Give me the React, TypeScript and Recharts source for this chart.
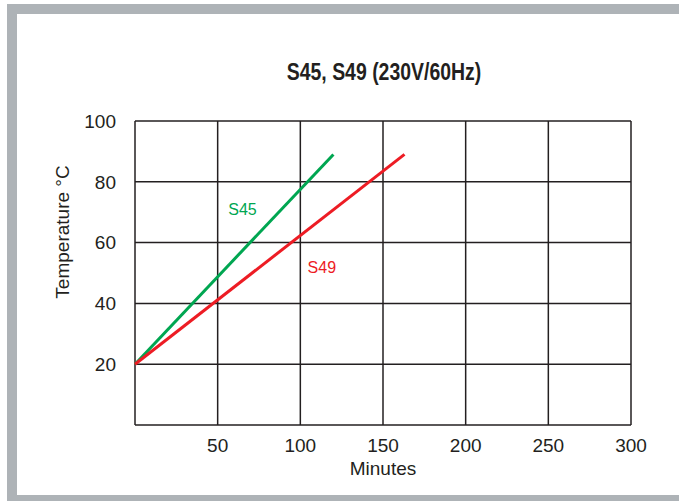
import React from 'react';
import { LineChart, Line, XAxis, YAxis, CartesianGrid, ReferenceDot } from 'recharts';

const xTicks = [0, 50, 100, 150, 200, 250, 300];
const yTicks = [0, 20, 40, 60, 80, 100];
const s45 = [
  { x: 0, y: 20 },
  { x: 120, y: 89 },
];
const s49 = [
  { x: 0, y: 20 },
  { x: 163, y: 89 },
];
const labels = [
  { name: 'S45', x: 65, y: 71, color: '#00a651' },
  { name: 'S49', x: 113, y: 52, color: '#ed1c24' },
];

const FONT = '"Liberation Sans", Arial, sans-serif';
const TEXT = '#231f20';

const YLabel = () => (
  <text
    x={62}
    y={232}
    transform="rotate(-90, 62, 232)"
    textAnchor="middle"
    dominantBaseline="central"
    fill={TEXT}
    fontSize={19}
    fontFamily={FONT}
  >
    Temperature °C
  </text>
);

export default function App() {
  return (
    <div style={{ position: 'absolute', left: 0, top: 0, width: 679, height: 501, background: '#fff', overflow: 'hidden' }}>
      <div style={{ position: 'absolute', left: 7, top: 4, width: 672, height: 10, background: '#aeb3b7' }} />
      <div style={{ position: 'absolute', left: 7, top: 4, width: 10, height: 497, background: '#aeb3b7' }} />
      <div style={{ position: 'absolute', left: 7, top: 495, width: 672, height: 6, background: '#aeb3b7' }} />
      <div
        style={{
          position: 'absolute',
          left: 384,
          top: 57,
          transform: 'translateX(-50%) scaleX(0.81)',
          whiteSpace: 'nowrap',
          fontFamily: '"Liberation Sans Narrow", "Liberation Sans", Arial, sans-serif',
          fontWeight: 'bold',
          fontSize: 24,
          color: TEXT,
          lineHeight: '29px',
        }}
      >
        S45, S49 (230V/60Hz)
      </div>
      <div style={{ position: 'absolute', left: 0, top: 0 }}>
        <LineChart
          width={679}
          height={501}
          margin={{ top: 121, right: 48, bottom: 46, left: 75 }}
        >
          <CartesianGrid stroke={TEXT} strokeWidth={1.5} horizontalValues={yTicks} verticalValues={xTicks} />
          <XAxis
            type="number"
            dataKey="x"
            domain={[0, 300]}
            ticks={xTicks}
            axisLine={false}
            tickLine={false}
            interval={0}
            tickMargin={8}
            tickFormatter={(v: number) => (v === 0 ? '' : String(v))}
            tick={{ fill: TEXT, fontSize: 19, fontFamily: FONT }}
            height={30}
            label={{ value: 'Minutes', position: 'insideBottom', offset: -20, fill: TEXT, fontSize: 19, fontFamily: FONT }}
          />
          <YAxis
            type="number"
            domain={[0, 100]}
            ticks={yTicks}
            axisLine={false}
            tickLine={false}
            interval={0}
            width={60}
            tickMargin={13}
            tickFormatter={(v: number) => (v === 0 ? '' : String(v))}
            tick={{ fill: TEXT, fontSize: 19, fontFamily: FONT }}
            label={<YLabel />}
          />
          <Line data={s45} dataKey="y" stroke="#00a651" strokeWidth={3} dot={false} isAnimationActive={false} />
          <Line data={s49} dataKey="y" stroke="#ed1c24" strokeWidth={3} dot={false} isAnimationActive={false} />
          {labels.map((l) => (
            <ReferenceDot
              key={l.name}
              x={l.x}
              y={l.y}
              r={0}
              fill="none"
              stroke="none"
              label={{ value: l.name, position: 'center', fill: l.color, fontSize: 16, fontFamily: FONT }}
            />
          ))}
        </LineChart>
      </div>
    </div>
  );
}
